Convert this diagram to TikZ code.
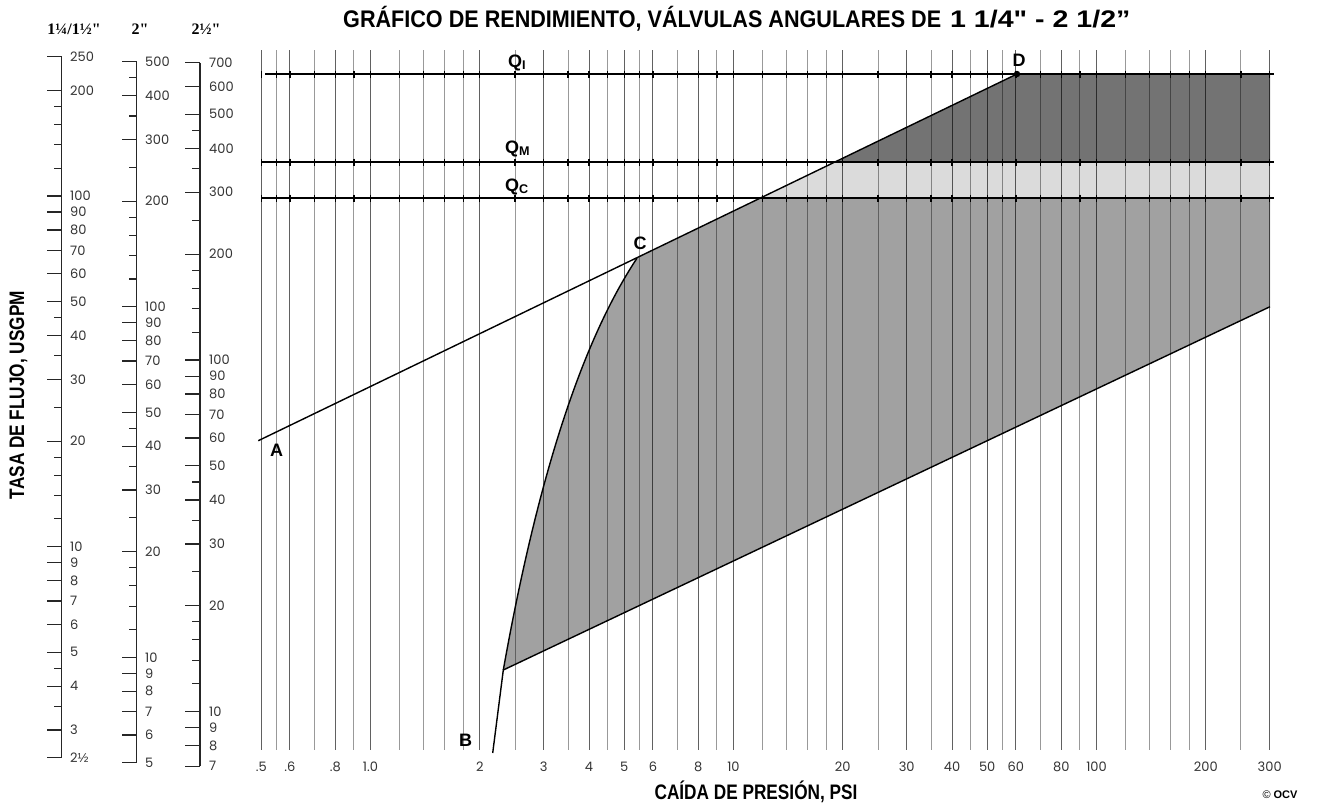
\documentclass[tikz,border=0pt]{standalone}
\usepackage{graphicx}
\usepackage{fontspec}
\setmainfont{Liberation Sans}
\newfontfamily\narrowfont[FakeStretch=0.82]{Liberation Sans}
\newfontfamily\titlefont[FakeStretch=0.9]{Liberation Sans}
\newfontfamily\rawsans[Ligatures=TeXOff]{Liberation Sans}
\newfontfamily\numfont{Poppins}
\newfontfamily\halffont{Liberation Sans}
\newfontfamily\hdrfont[Ligatures=TeXOff]{Liberation Serif}
\begin{document}
\begin{tikzpicture}[x=1pt,y=-1pt,
  gridline/.style={draw=black,draw opacity=0.4,line width=0.9pt},
  gridmajor/.style={draw=black,draw opacity=0.62,line width=1pt},
  qline/.style={draw=black,line width=1.5pt},
  qtick/.style={draw=black,line width=1.3pt},
  bound/.style={draw=black,line width=1.4pt},
  medshade/.style={fill=black!37},
  lightshade/.style={fill=black!14},
  darkshade/.style={fill=black!55},
  numlbl/.style={font=\numfont\fontsize{13}{13}\selectfont,text=black!80,inner sep=0pt},
  sclbl/.style={numlbl,anchor=west},
  ptlbl/.style={font=\bfseries\fontsize{18}{18}\selectfont,inner sep=0pt},
  qlbl/.style={font=\bfseries\fontsize{18}{18}\selectfont,inner sep=0pt,anchor=base west},
  scaleaxis/.style={draw=black!85,line width=1.2pt},
  majtick/.style={draw=black!85,line width=1.2pt},
  mintick/.style={draw=black!85,line width=1.1pt},
  hdr/.style={font=\hdrfont\bfseries\fontsize{16}{16}\selectfont,inner sep=0pt},
  axlbl/.style={font=\narrowfont\bfseries\fontsize{21}{21}\selectfont,inner sep=0pt},
]
\useasboundingbox (0,0) rectangle (1318,806);

% key points
\coordinate (A) at (258.3,440.7);
\coordinate (D) at (1017,74);
\coordinate (K) at (503.3,670);
\coordinate (Bend) at (492.7,753);
\coordinate (E) at (1270,306.7);
\coordinate (C) at (637,258.2);
\coordinate (KC1) at (541,458);
\coordinate (KC2) at (588,332);
\coordinate (QCx) at (intersection of A--D and 0,198--1318,198);
\coordinate (QMx) at (intersection of A--D and 0,162--1318,162);
\coordinate (QCr) at (1270,198);
\coordinate (QMr) at (1270,162);
\coordinate (QIr) at (1270,74);

% shaded regions
\fill[medshade] (K) .. controls (KC1) and (KC2) .. (C) -- (QCx) -- (QCr) -- (E) -- cycle;
\fill[lightshade] (QCx) -- (QCr) -- (QMr) -- (QMx) -- cycle;
\fill[darkshade] (QMx) -- (QMr) -- (QIr) -- (D) -- cycle;

% vertical grid (minor)
\foreach \p in {0.55,0.7,0.9,1.2,1.4,1.6,1.8,2.5,3.5,4.5,5.5,7,9,12,14,16,18,25,35,45,55,70,90,120,140,160,180,250} {
  \pgfmathsetmacro\xx{370.5+363*log10(\p)}
  \draw[gridline] (\xx,50) -- (\xx,750);
  \foreach \yq in {74,162,198} \draw[qtick] (\xx,\yq-3.5) -- (\xx,\yq+3.5);
}
% vertical grid (labelled)
\foreach \p/\lab [count=\i] in {0.5/.5,0.6/.6,0.8/.8,1/1.0,2/2,3/3,4/4,5/5,6/6,8/8,10/10,20/20,30/30,40/40,50/50,60/60,80/80,100/100,200/200,300/300} {
  \pgfmathsetmacro\xx{370.5+363*log10(\p)}
  \draw[gridmajor] (\xx,50) -- (\xx,750);
  \foreach \yq in {74,162,198} \draw[qtick] (\xx,\yq-3.5) -- (\xx,\yq+3.5);
  \node[numlbl] (xl\i) at (\xx,767) {\lab};
}

% Q lines
\coordinate (QIl) at (265,74);
\coordinate (QMl) at (262,162);
\coordinate (QCl) at (262,198);
\draw[qline] (QIl) -- (1274,74);
\draw[qline] (QMl) -- (1274,162);
\draw[qline] (QCl) -- (1274,198);

% boundaries
\draw[bound] (A) -- (D);
\draw[bound] (Bend) -- (K) -- (E);
\draw[bound] (K) .. controls (KC1) and (KC2) .. (C);
\fill (D) circle (3.2);

% point labels
\node[ptlbl] (lA) at (276.7,450) {A};
\node[ptlbl] (lB) at (465.5,740.5) {B};
\node[ptlbl] (lC) at (640,243) {C};
\node[ptlbl] (lD) at (1019,60.5) {D};
\node[qlbl] (lQI) at (508,67) {Q\textsubscript{I}};
\node[qlbl] (lQM) at (505,153) {Q\textsubscript{M}};
\node[qlbl] (lQC) at (505,191) {Q\textsubscript{C}};

% left scale 1 (1 1/4 - 1 1/2)
\draw[scaleaxis] (61.7,{897.4-350.7*log10(250)}) -- (61.7,{897.4-350.7*log10(2.5)});
\foreach \q/\lab [count=\i] in {250/250,200/200,100/100,90/90,80/80,70/70,60/60,50/50,40/40,30/30,20/20,10/10,9/9,8/8,7/7,6/6,5/5,4/4,3/3,2.5/{2{\halffont ½}}} {
  \pgfmathsetmacro\yy{897.4-350.7*log10(\q)}
  \draw[majtick] (61.7,\yy) -- (46.7,\yy);
  \node[sclbl] (sa\i) at (70,\yy) {\lab};
}
\foreach \q in {180,160,140,120,45,35,25,18,16,14,12,4.5,3.5} {
  \pgfmathsetmacro\yy{897.4-350.7*log10(\q)}
  \draw[mintick] (61.7,\yy) -- (53.7,\yy);
}

% left scale 2 (2")
\draw[scaleaxis] (136.7,{1007.9-350.6*log10(500)}) -- (136.7,{1007.9-350.6*log10(5)});
\foreach \q [count=\i] in {500,400,300,200,100,90,80,70,60,50,40,30,20,10,9,8,7,6,5} {
  \pgfmathsetmacro\yy{1007.9-350.6*log10(\q)}
  \draw[majtick] (136.7,\yy) -- (121.7,\yy);
  \node[sclbl] (sb\i) at (145,\yy) {\q};
}
\foreach \q in {450,350,250,180,160,140,120,45,35,25,18,16,14,12} {
  \pgfmathsetmacro\yy{1007.9-350.6*log10(\q)}
  \draw[mintick] (136.7,\yy) -- (128.7,\yy);
}

% left scale 3 (2 1/2")
\draw[scaleaxis] (200,{1063.4-351.7*log10(700)}) -- (200,{1063.4-351.7*log10(7)});
\foreach \q [count=\i] in {700,600,500,400,300,200,100,90,80,70,60,50,40,30,20,10,9,8,7} {
  \pgfmathsetmacro\yy{1063.4-351.7*log10(\q)}
  \draw[majtick] (200,\yy) -- (185,\yy);
  \node[sclbl] (sc\i) at (209,\yy) {\q};
}
\foreach \q in {450,350,250,180,160,140,120,45,35,25,18,16,14,12} {
  \pgfmathsetmacro\yy{1063.4-351.7*log10(\q)}
  \draw[mintick] (200,\yy) -- (192,\yy);
}

% headers
\node[hdr] (h1) at (74,29) {1¼/1½"};
\node[hdr] (h2) at (140,29) {2"};
\node[hdr] (h3) at (206,29) {2½"};

% titles and axis labels
\node[anchor=base west,inner sep=0pt,font=\titlefont\bfseries\fontsize{24}{24}\selectfont] (t1) at (343,27) {GRÁFICO DE RENDIMIENTO, VÁLVULAS ANGULARES DE};
\node[anchor=base west,inner sep=0pt,font=\rawsans\bfseries\fontsize{24}{24}\selectfont] (t2) at (950,27) {\scalebox{1.19}[1]{1 1/4" - 2 1/2”}};
\node[axlbl,rotate=90] (ylab) at (18.5,395) {TASA DE FLUJO, USGPM};
\node[axlbl,anchor=base] (xlab) at (756,799) {CAÍDA DE PRESIÓN, PSI};
\node[anchor=base,inner sep=0pt,font=\fontsize{11}{11}\selectfont] (copy) at (1280,798) {© {\bfseries OCV}};
\end{tikzpicture}
\end{document}
